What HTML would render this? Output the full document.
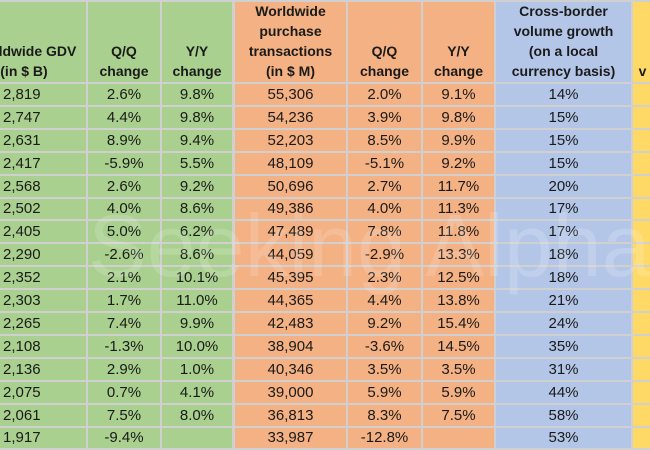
<!DOCTYPE html>
<html><head><meta charset="utf-8">
<style>
html,body{margin:0;padding:0}
body{width:650px;height:450px;overflow:hidden;position:relative;background:#d0d0d0;font-family:"Liberation Sans",Arial,sans-serif;color:#1a1a1a}
.c{position:absolute;overflow:hidden}
.h{position:absolute;left:0;right:0;bottom:1px;text-align:center;font-weight:bold;font-size:14px;line-height:20px;white-space:nowrap}
.d{position:absolute;left:0;right:0;top:0;bottom:0;text-align:center;font-size:15px;white-space:nowrap}
.wm{position:absolute;left:88px;top:195px;font-size:88px;color:rgba(255,255,255,0.16);white-space:nowrap;pointer-events:none;font-family:"Liberation Sans",sans-serif}
</style></head><body>
<div id="t"></div>
<div class="wm">Seeking Alpha</div>
<script>
var cols=[[-2,86],[88,160],[162,232],[235,346],[348,421],[423,494],[496,631],[633,652]];
var col=['#a9d08e','#a9d08e','#a9d08e','#f4b183','#f4b183','#f4b183','#b4c6e7','#ffd966'];
var hdr=[['Worldwide GDV','(in $ B)'],['Q/Q','change'],['Y/Y','change'],['Worldwide','purchase','transactions','(in $ M)'],['Q/Q','change'],['Y/Y','change'],['Cross-border','volume growth','(on a local','currency basis)'],['','','v','']];
var data=[
['2,819','2.6%','9.8%','55,306','2.0%','9.1%','14%'],
['2,747','4.4%','9.8%','54,236','3.9%','9.8%','15%'],
['2,631','8.9%','9.4%','52,203','8.5%','9.9%','15%'],
['2,417','-5.9%','5.5%','48,109','-5.1%','9.2%','15%'],
['2,568','2.6%','9.2%','50,696','2.7%','11.7%','20%'],
['2,502','4.0%','8.6%','49,386','4.0%','11.3%','17%'],
['2,405','5.0%','6.2%','47,489','7.8%','11.8%','17%'],
['2,290','-2.6%','8.6%','44,059','-2.9%','13.3%','18%'],
['2,352','2.1%','10.1%','45,395','2.3%','12.5%','18%'],
['2,303','1.7%','11.0%','44,365','4.4%','13.8%','21%'],
['2,265','7.4%','9.9%','42,483','9.2%','15.4%','24%'],
['2,108','-1.3%','10.0%','38,904','-3.6%','14.5%','35%'],
['2,136','2.9%','1.0%','40,346','3.5%','3.5%','31%'],
['2,075','0.7%','4.1%','39,000','5.9%','5.9%','44%'],
['2,061','7.5%','8.0%','36,813','8.3%','7.5%','58%'],
['1,917','-9.4%','','33,987','-12.8%','','53%']];
var h='';
for(var j=0;j<8;j++){
 var x=cols[j][0],w=cols[j][1]-cols[j][0];
 var inner=hdr[j].join('<br>');
 var style=j==0?'left:-40px;right:-4px':'';
 h+='<div class="c" style="left:'+x+'px;top:2px;width:'+w+'px;height:80px;background:'+col[j]+'"><div class="h" style="'+style+'">'+inner+'</div></div>';
}
for(var i=0;i<16;i++){
 var y0=Math.round(84+i*22.9),y1=Math.round(84+(i+1)*22.9)-2;
 for(var j=0;j<8;j++){
  var x=cols[j][0],w=cols[j][1]-cols[j][0];
  var t=j<7?data[i][j]:'';
  var st=j==0?'text-align:left;left:5px;':'';
  h+='<div class="c" style="left:'+x+'px;top:'+y0+'px;width:'+w+'px;height:'+(y1-y0)+'px;background:'+col[j]+'"><div class="d" style="'+st+'line-height:'+(y1-y0)+'px">'+t+'</div></div>';
 }
}
document.getElementById('t').innerHTML=h;
</script>
</body></html>
